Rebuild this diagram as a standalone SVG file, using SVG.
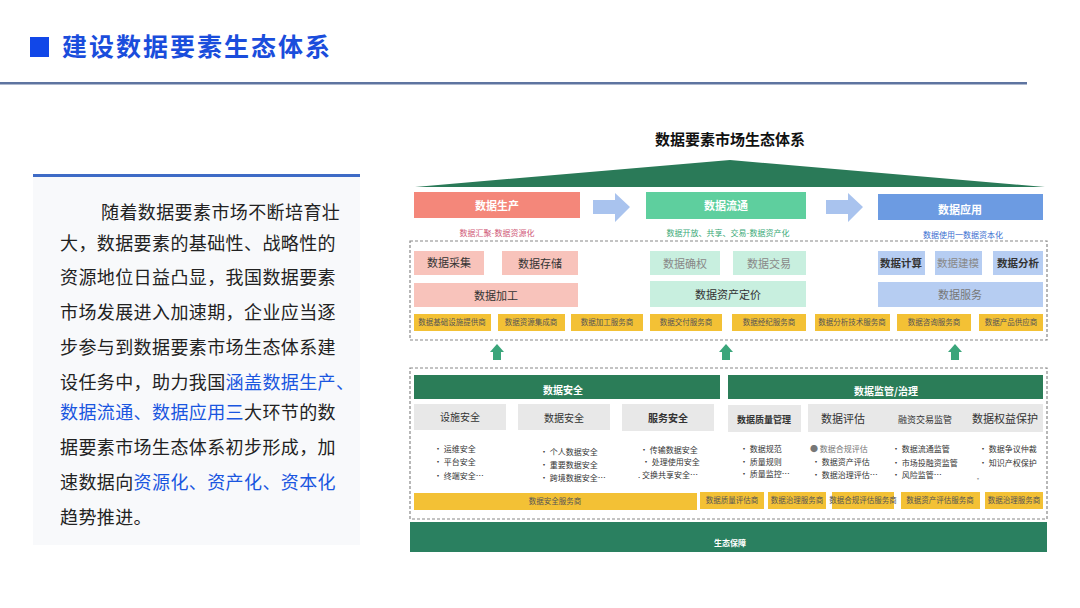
<svg xmlns="http://www.w3.org/2000/svg" width="1080" height="608" viewBox="0 0 1080 608">
<defs>
<style>
text{font-family:"Noto Sans CJK SC","Noto Sans",sans-serif;}
.body{font-size:18px;fill:#222;letter-spacing:0.4px;}
.hl{fill:#1a56e0;}
.wb{fill:#fff;font-weight:bold;text-anchor:middle;}
.pk{fill:#f8c3bb;}
.gn{fill:#c8efdf;}
.bl{fill:#b6cdf2;}
.yl{fill:#f3c135;}
.gr{fill:#e8e8e8;}
.dg{fill:#2b7d58;}
.lt{font-size:11px;fill:#333;text-anchor:middle;}
.yt{font-size:7.5px;fill:#555;text-anchor:middle;}
.bt{font-size:8px;fill:#333;}
.dash{fill:none;stroke:#888;stroke-width:1.2;stroke-dasharray:3 2;}
</style>
</defs>
<rect width="1080" height="608" fill="#fff"/>

<g id="header">
<rect x="30" y="37" width="19" height="20" fill="#1147e8"/>
<text x="62" y="56" font-size="25" letter-spacing="2" fill="#1a4ddc" font-weight="bold">建设数据要素生态体系</text>
<rect x="0" y="82" width="1027" height="2.5" fill="#5e74a0"/>
</g>

<g id="left-panel">
<rect x="33" y="175" width="327" height="370" fill="#f8f9fb"/>
<rect x="33" y="174" width="327" height="3" fill="#3e6bc6"/>
<text class="body" x="101" y="219">随着数据要素市场不断培育壮</text>
<text class="body" x="60" y="250">大，数据要素的基础性、战略性的</text>
<text class="body" x="60" y="284">资源地位日益凸显，我国数据要素</text>
<text class="body" x="60" y="319">市场发展进入加速期，企业应当逐</text>
<text class="body" x="60" y="354">步参与到数据要素市场生态体系建</text>
<text class="body" x="60" y="389" letter-spacing="-0.4">设任务中，助力我国<tspan class="hl">涵盖数据生产、</tspan></text>
<text class="body" x="60" y="419"><tspan class="hl">数据流通、数据应用三</tspan>大环节的数</text>
<text class="body" x="60" y="454">据要素市场生态体系初步形成，加</text>
<text class="body" x="60" y="489">速数据向<tspan class="hl">资源化、资产化、资本化</tspan></text>
<text class="body" x="60" y="524">趋势推进。</text>
</g>

<g id="diagram-title">
<text x="730" y="145" font-size="15" font-weight="bold" fill="#111" text-anchor="middle">数据要素市场生态体系</text>
<polygon points="415,187 730,160 1045,187" fill="#2a7a58"/>
</g>

<g id="stage-production">
<rect x="414" y="192" width="166" height="26" fill="#f4877a"/>
<text class="wb" x="497" y="210" font-size="11">数据生产</text>
<text x="497" y="236" font-size="8" fill="#d05a78" text-anchor="middle">数据汇聚-数据资源化</text>
</g>
<g id="stage-circulation">
<rect x="646" y="192" width="160" height="27" fill="#5ecf9e"/>
<text class="wb" x="726" y="210" font-size="11">数据流通</text>
<text x="728" y="236" font-size="8" fill="#3aaa78" text-anchor="middle">数据开放、共享、交易-数据资产化</text>
</g>
<g id="stage-application">
<rect x="878" y="194" width="165" height="26" fill="#6c9be2"/>
<text class="wb" x="960" y="214" font-size="11">数据应用</text>
<text x="963" y="238" font-size="8" fill="#3a6ed0" text-anchor="middle">数据使用一数据资本化</text>
</g>

<g id="connectors">
<polygon points="593,200 615,200 615,193 630,207 615,222 615,214 593,214" fill="#a9c3ee"/>
<polygon points="826,200 848,200 848,193 863,207 848,222 848,214 826,214" fill="#a9c3ee"/>
<polygon points="490,352 497,344 504,352 501,352 501,360 493,360 493,352" fill="#3aa57a"/>
<polygon points="719,352 726,344 733,352 730,352 730,360 722,360 722,352" fill="#3aa57a"/>
<polygon points="948,352 955,344 962,352 959,352 959,360 951,360 951,352" fill="#3aa57a"/>
</g>

<g id="upper-layer">
<rect class="dash" x="410" y="241" width="637" height="99"/>
<rect class="pk" x="414" y="251" width="70" height="24"/>
<text class="lt" x="449" y="267">数据采集</text>
<rect class="pk" x="502" y="251" width="76" height="24"/>
<text class="lt" x="540" y="268">数据存储</text>
<rect class="pk" x="414" y="283" width="164" height="24"/>
<text class="lt" x="496" y="300">数据加工</text>
<rect class="gn" x="650" y="251" width="70" height="24"/>
<text class="lt" x="685" y="268" style="fill:#888">数据确权</text>
<rect class="gn" x="733" y="251" width="73" height="24"/>
<text class="lt" x="769" y="268" style="fill:#888">数据交易</text>
<rect class="gn" x="650" y="281" width="156" height="26"/>
<text class="lt" x="728" y="299">数据资产定价</text>
<rect class="bl" x="878" y="251" width="47" height="24"/>
<text class="lt" x="901" y="267" style="font-weight:bold;font-size:10.5px">数据计算</text>
<rect class="bl" x="935" y="251" width="47" height="24"/>
<text class="lt" x="958" y="267" style="fill:#888;font-size:10.5px">数据建模</text>
<rect class="bl" x="993" y="251" width="50" height="24"/>
<text class="lt" x="1018" y="267" style="font-weight:bold;font-size:10.5px">数据分析</text>
<rect class="bl" x="878" y="282" width="165" height="25"/>
<text class="lt" x="960" y="299" style="fill:#777">数据服务</text>
<rect class="yl" x="414" y="314" width="77" height="17"/>
<text class="yt" x="452" y="325">数据基础设施提供商</text>
<rect class="yl" x="498" y="314" width="67" height="17"/>
<text class="yt" x="531" y="325">数据资源集成商</text>
<rect class="yl" x="571" y="314" width="72" height="17"/>
<text class="yt" x="607" y="325">数据加工服务商</text>
<rect class="yl" x="650" y="314" width="72" height="17"/>
<text class="yt" x="686" y="325">数据交付服务商</text>
<rect class="yl" x="732" y="314" width="74" height="17"/>
<text class="yt" x="769" y="325">数据经纪服务商</text>
<rect class="yl" x="815" y="314" width="75" height="17"/>
<text class="yt" x="852" y="325">数据分析技术服务商</text>
<rect class="yl" x="897" y="314" width="74" height="17"/>
<text class="yt" x="934" y="325">数据咨询服务商</text>
<rect class="yl" x="979" y="314" width="64" height="17"/>
<text class="yt" x="1011" y="325">数据产品供应商</text>
</g>

<g id="lower-layer">
<rect class="dash" x="410" y="368" width="637" height="151"/>
<rect class="dg" x="414" y="375" width="306" height="24"/>
<text class="wb" x="563" y="394" font-size="10">数据安全</text>
<rect class="dg" x="728" y="375" width="315" height="24"/>
<text class="wb" x="886" y="395" font-size="10">数据监管/治理</text>
<rect class="gr" x="414" y="404" width="92" height="26"/>
<text class="lt" x="460" y="421" style="font-size:10px">设施安全</text>
<rect class="gr" x="518" y="404" width="92" height="26"/>
<text class="lt" x="564" y="422" style="font-size:10px">数据安全</text>
<rect class="gr" x="622" y="404" width="92" height="27"/>
<text class="lt" x="668" y="422" style="font-size:10px;font-weight:bold">服务安全</text>
<rect class="gr" x="728" y="405" width="73" height="27"/>
<text class="lt" x="764" y="423" style="font-size:9px;font-weight:bold">数据质量管理</text>
<rect class="gr" x="808" y="404" width="235" height="28"/>
<text class="lt" x="843" y="423" style="font-size:11px">数据评估</text>
<text class="lt" x="925" y="423" style="font-size:9px">融资交易监管</text>
<text class="lt" x="1005" y="423" style="font-size:11px">数据权益保护</text>

<text class="bt" x="434" y="452">· 运维安全</text>
<text class="bt" x="434" y="465">·  平台安全</text>
<text class="bt" x="434" y="479">· 终端安全⋯</text>
<text class="bt" x="540" y="455">· 个人数据安全</text>
<text class="bt" x="540" y="468">· 重要数据安全</text>
<text class="bt" x="540" y="481">· 跨境数据安全⋯</text>
<text class="bt" x="640" y="453">· 传输数据安全</text>
<text class="bt" x="642" y="465">·  处理使用安全</text>
<text class="bt" x="638" y="478">. 交换共享安全⋯</text>
<text class="bt" x="740" y="452">· 数据规范</text>
<text class="bt" x="740" y="465">· 质量规则</text>
<text class="bt" x="740" y="477">· 质量监控⋯</text>
<text class="bt" x="810" y="452" style="fill:#777">● 数据合规评估</text>
<text class="bt" x="812" y="465">· 数据资产评估</text>
<text class="bt" x="812" y="478">· 数据治理评估⋯</text>
<text class="bt" x="892" y="452">· 数据流通监管</text>
<text class="bt" x="892" y="466">· 市场投融资监管</text>
<text class="bt" x="892" y="478">· 风险监管⋯</text>
<text class="bt" x="979" y="452">· 数据争议仲裁</text>
<text class="bt" x="979" y="466">· 知识产权保护</text>
<text class="bt" x="974" y="482" style="fill:#999">•</text>

<rect class="yl" x="414" y="493" width="283" height="17"/>
<text class="yt" x="555" y="504">数据安全服务商</text>
<rect class="yl" x="700" y="492" width="64" height="17"/>
<text class="yt" x="732" y="503">数据质量评估商</text>
<rect class="yl" x="768" y="492" width="58" height="17"/>
<text class="yt" x="797" y="503">数据治理服务商</text>
<rect class="yl" x="832" y="492" width="62" height="17"/>
<text class="yt" x="863" y="503">数据合规评估服务商</text>
<rect class="yl" x="901" y="492" width="79" height="17"/>
<text class="yt" x="940" y="503">数据资产评估服务商</text>
<rect class="yl" x="985" y="492" width="58" height="17"/>
<text class="yt" x="1014" y="503">数据治理服务商</text>
</g>

<g id="ecosystem-guarantee">
<rect x="410" y="522" width="637" height="30" fill="#2a8060"/>
<text class="wb" x="730" y="546" font-size="8">生态保障</text>
</g>
</svg>
